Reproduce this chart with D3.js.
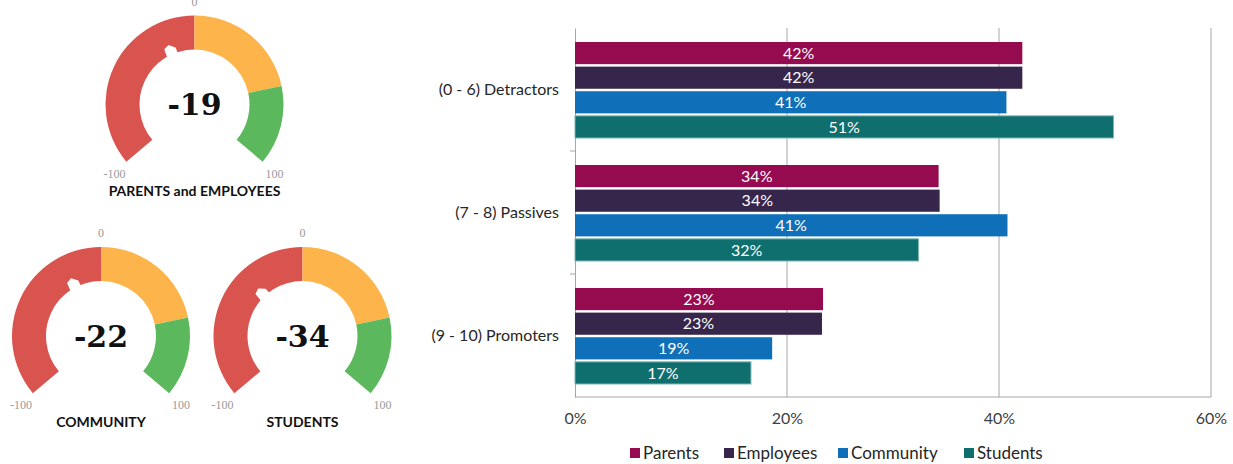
<!DOCTYPE html>
<meta charset="utf-8">
<title>NPS gauges and bars</title>
<style>
    body { margin: 0; background: #fff; }
    .grid line { stroke: #a6a6a6; stroke-width: 1; }
    .lbl { font-family: Lato, "Open Sans", sans-serif; }
</style>
<body>
</body>

<script src="https://d3js.org/d3.v7.min.js"></script>
<script>
    const width = 1233, height = 464;

    // gauges
    const gaugeNames = ["PARENTS and EMPLOYEES", "COMMUNITY", "STUDENTS"];
    const gaugeScores = [-19, -22, -34];
    const gaugeBands = [[-100, 0], [0, 60], [60, 100]];
    const gaugeColors = ["#d9534f", "#fdb44b", "#5cb85c"];

    // bars
    const categories = ["(0 - 6) Detractors", "(7 - 8) Passives", "(9 - 10) Promoters"];
    const seriesNames = ["Parents", "Employees", "Community", "Students"];
    const parents = [42.2, 34.3, 23.4];
    const employees = [42.2, 34.4, 23.3];
    const community = [40.7, 40.8, 18.6];
    const students = [50.8, 32.4, 16.6];
    const seriesColors = ["#960a50", "#37264b", "#0f6fb8", "#0f6e6e"];
    const xTicks = [0, 20, 40, 60];

    const svg = d3.select("body").append("svg")
        .attr("width", width).attr("height", height);

    // ---- gauges ----
    const gaugePos = [[194.5, 104.5], [101, 336], [302.5, 336]];
    const rOut = 89, rIn = 55;
    const ang = d3.scaleLinear().domain([-100, 100]).range([-130 * Math.PI / 180, 130 * Math.PI / 180]);
    const arc = d3.arc().innerRadius(rIn).outerRadius(rOut);

    gaugeNames.forEach((name, i) => {
        const g = svg.append("g").attr("transform", `translate(${gaugePos[i]})`);

        g.selectAll("path.band")
            .data(gaugeBands)
            .join("path")
            .attr("class", "band")
            .attr("fill", (d, j) => gaugeColors[j])
            .attr("d", d => arc({startAngle: ang(d[0]), endAngle: ang(d[1])}));

        // little white pointer on inner edge
        const a = ang(gaugeScores[i]);
        const pt = (r, t) => [r * Math.sin(t), -r * Math.cos(t)];
        g.append("path")
            .attr("fill", "#fff")
            .attr("d", "M" + pt(rIn - 2, a - 0.1) + "L" + pt(rIn + 8, a - 0.07) + "L" + pt(rIn + 10, a + 0.02)
                + "L" + pt(rIn + 5, a + 0.11) + "L" + pt(rIn - 2, a + 0.12) + "Z");

        g.append("text")
            .attr("text-anchor", "middle")
            .attr("dominant-baseline", "central")
            .attr("font-family", "DejaVu Serif, serif")
            .attr("font-weight", "bold")
            .attr("font-size", 30)
            .attr("fill", "#111")
            .text(gaugeScores[i]);

        const tl = [[-100, -80, 73], [100, 80, 73], [0, 0, -rOut - 10]];
        g.selectAll("text.tick")
            .data(tl)
            .join("text")
            .attr("class", "tick")
            .attr("x", d => d[1]).attr("y", d => d[2])
            .attr("text-anchor", "middle")
            .attr("font-family", "Liberation Serif, serif")
            .attr("font-size", 12)
            .attr("fill", "#999")
            .text(d => d[0]);

        g.append("text")
            .attr("class", "lbl")
            .attr("y", 91)
            .attr("text-anchor", "middle")
            .attr("font-weight", "bold")
            .attr("font-size", 14)
            .attr("fill", "#111")
            .text(name);
    });

    // ---- bar chart ----
    const plotL = 575, plotR = 1211, plotT = 28, plotB = 397;
    const x = d3.scaleLinear().domain([0, 60]).range([plotL, plotR]);
    const y0 = d3.scaleBand().domain(categories).range([plotT, plotB]);
    const y1 = d3.scaleBand().domain(seriesNames).range([14, 110]).paddingInner(0.1);

    const table = categories.map((c, k) => ({
        cat: c,
        vals: [parents[k], employees[k], community[k], students[k]]
    }));

    const grid = svg.append("g").attr("class", "grid");
    grid.selectAll("line.v")
        .data(xTicks.slice(1))
        .join("line")
        .attr("class", "v")
        .attr("x1", d => x(d)).attr("x2", d => x(d))
        .attr("y1", plotT).attr("y2", plotB);
    grid.append("line").attr("x1", plotL).attr("x2", plotR).attr("y1", plotB).attr("y2", plotB);

    const yAxis = svg.append("g")
        .attr("transform", `translate(${plotL},0)`)
        .call(d3.axisLeft(y0).tickSize(0).tickFormat(""));
    yAxis.select(".domain").attr("stroke", "#a6a6a6");
    yAxis.selectAll("line.sep")
        .data(categories.slice(1))
        .join("line")
        .attr("class", "sep")
        .attr("stroke", "#a6a6a6")
        .attr("x1", -5).attr("x2", 0)
        .attr("y1", d => y0(d)).attr("y2", d => y0(d));

    svg.append("g").selectAll("text")
        .data(categories)
        .join("text")
        .attr("class", "lbl")
        .attr("x", plotL - 16)
        .attr("y", d => y0(d) + y0.bandwidth() / 2)
        .attr("dy", "0.35em")
        .attr("text-anchor", "end")
        .attr("font-size", 16)
        .attr("fill", "#262626")
        .text(d => d);

    const xAxis = svg.append("g")
        .attr("transform", `translate(0,${plotB})`)
        .call(d3.axisBottom(x).tickValues(xTicks).tickSize(0).tickPadding(16).tickFormat(d => d + "%"));
    xAxis.select(".domain").remove();
    xAxis.selectAll("text")
        .attr("font-family", "Lato, 'Open Sans', sans-serif")
        .attr("font-size", 16)
        .attr("fill", "#404040");

    const groups = svg.append("g").selectAll("g")
        .data(table)
        .join("g")
        .attr("transform", d => `translate(0,${y0(d.cat)})`);

    groups.selectAll("rect")
        .data(d => d.vals.map((v, j) => ({key: seriesNames[j], v: v, j: j})))
        .join("rect")
        .attr("x", x(0))
        .attr("y", d => y1(d.key))
        .attr("width", d => x(d.v) - x(0))
        .attr("height", y1.bandwidth())
        .attr("fill", d => seriesColors[d.j])
        .attr("stroke", d => d.j === 3 ? "#7fb5b5" : "none")
        .attr("stroke-width", 1);

    groups.selectAll("text")
        .data(d => d.vals.map((v, j) => ({key: seriesNames[j], v: v})))
        .join("text")
        .attr("class", "lbl")
        .attr("x", d => (x(0) + x(d.v)) / 2)
        .attr("y", d => y1(d.key) + y1.bandwidth() / 2)
        .attr("dy", "0.36em")
        .attr("text-anchor", "middle")
        .attr("font-size", 16)
        .attr("fill", "#fff")
        .text(d => Math.round(d.v) + "%");

    // legend
    const legX = [630, 724, 838, 964];
    const leg = svg.append("g").selectAll("g")
        .data(seriesNames)
        .join("g")
        .attr("transform", (d, i) => `translate(${legX[i]},448)`);
    leg.append("rect").attr("width", 10).attr("height", 10)
        .attr("fill", (d, i) => seriesColors[i]);
    leg.append("text")
        .attr("class", "lbl")
        .attr("x", 13).attr("y", 5).attr("dy", "0.36em")
        .attr("font-size", 17)
        .attr("fill", "#262626")
        .text(d => d);
</script>
